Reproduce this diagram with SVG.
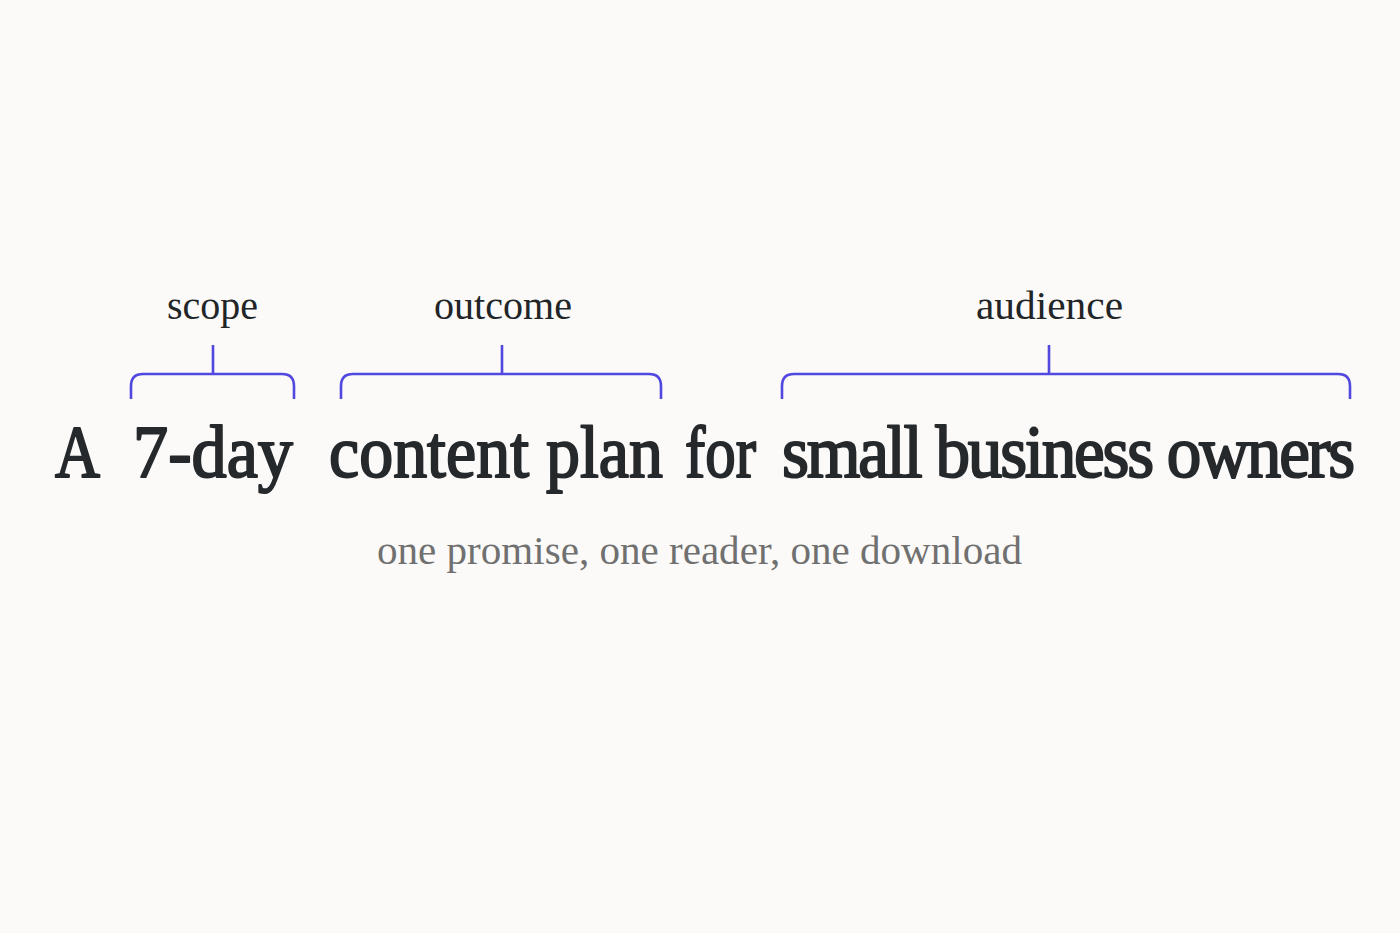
<svg xmlns="http://www.w3.org/2000/svg" width="1400" height="933" viewBox="0 0 1400 933">
<style>
.bg{fill:#fbfaf8}
.main{font-family:"Liberation Serif","Times New Roman",serif;font-size:73px;font-weight:400;fill:#26292c;stroke:#26292c;stroke-width:2;stroke-linejoin:round}
.label{font-family:"Liberation Serif","Times New Roman",serif;font-size:40px;fill:#222528}
.sub{font-family:"Liberation Serif","Times New Roman",serif;font-size:40px;fill:#707070}
.br{fill:none;stroke:#5148e0;stroke-width:2.6;stroke-linecap:butt;stroke-linejoin:round}
</style>
<rect class="bg" x="0" y="0" width="1400" height="933"/>
<g id="headline">
<text class="main" x="55" y="477" textLength="45" lengthAdjust="spacingAndGlyphs">A</text>
<text class="main" x="133" y="477" textLength="160" lengthAdjust="spacingAndGlyphs">7-day</text>
<text class="main" x="329" y="477" textLength="334" lengthAdjust="spacingAndGlyphs">content plan</text>
<text class="main" x="685" y="477" textLength="71" lengthAdjust="spacingAndGlyphs">for</text>
<text class="main" x="782" y="477" textLength="571" lengthAdjust="spacingAndGlyphs" letter-spacing="-2.4">small business owners</text>
</g>
<g id="scope">
<text class="label" x="167" y="319" textLength="91" lengthAdjust="spacingAndGlyphs">scope</text>
</g>
<g id="outcome">
<text class="label" x="434" y="319" textLength="138" lengthAdjust="spacingAndGlyphs">outcome</text>
</g>
<g id="audience">
<text class="label" x="976" y="319" textLength="147" lengthAdjust="spacingAndGlyphs">audience</text>
</g>
<g id="tagline">
<text class="sub" x="377" y="564" textLength="645" lengthAdjust="spacingAndGlyphs">one promise, one reader, one download</text>
</g>
<g id="connectors">
<path class="br" d="M131 399 V386 Q131 374 143 374 H282 Q294 374 294 386 V399 M213 345 V374"/>
<path class="br" d="M341 399 V386 Q341 374 353 374 H649 Q661 374 661 386 V399 M502 345 V374"/>
<path class="br" d="M782 399 V386 Q782 374 794 374 H1338 Q1350 374 1350 386 V399 M1049 345 V374"/>
</g>
</svg>
